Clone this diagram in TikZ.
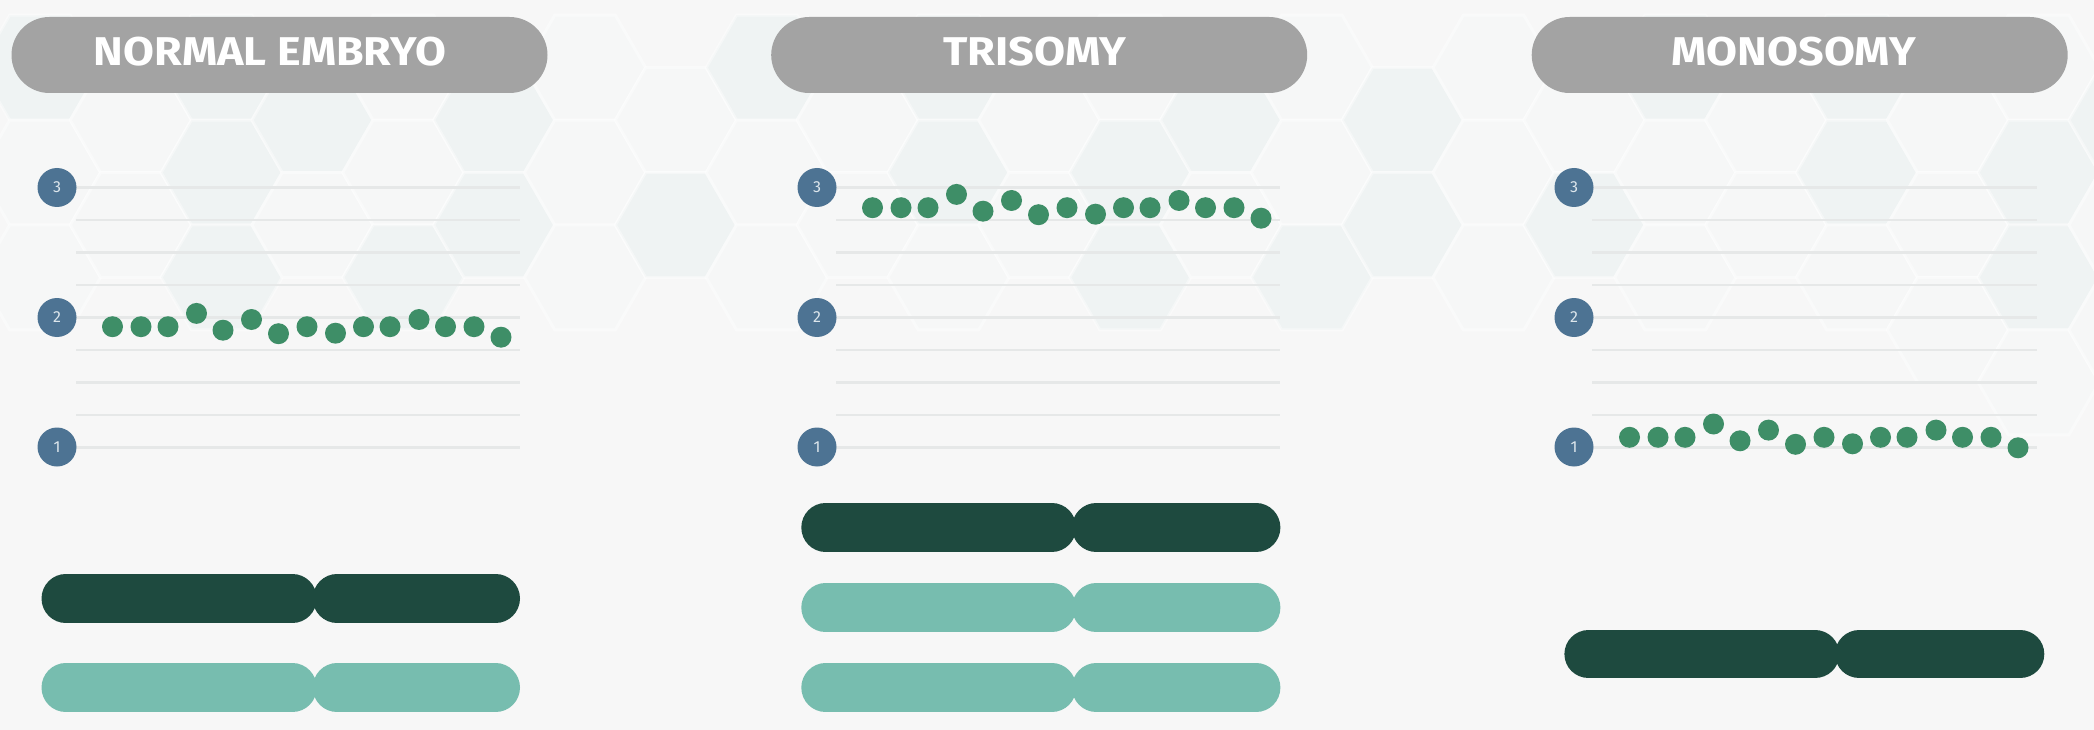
\documentclass[tikz,border=0pt]{standalone}
\usepackage{fontspec}
\usepackage{graphicx}
\setmainfont{Fira Sans}
\usetikzlibrary{shapes.misc}
\definecolor{bg}{HTML}{F7F7F7}
\definecolor{hexa}{HTML}{EFF3F3}
\definecolor{hexb}{HTML}{F6F7F7}
\definecolor{pillc}{HTML}{A3A3A3}
\definecolor{numblue}{HTML}{4D7393}
\definecolor{numtext}{HTML}{DDE6EC}
\definecolor{dotgreen}{HTML}{3E8E67}
\definecolor{chrdark}{HTML}{1E4A3F}
\definecolor{chrlight}{HTML}{77BDAF}
\definecolor{gridc}{HTML}{E6E8E8}
\begin{document}
\begin{tikzpicture}[x=1pt,y=-1pt,
  pillbox/.style={fill=pillc, rounded rectangle, rounded rectangle arc length=180, minimum width=536pt, minimum height=76pt, inner sep=0pt},
  hdrtext/.style={text=white, inner sep=0pt, anchor=base},
  numc/.style={circle, fill=numblue, minimum size=39pt, inner sep=0pt, text=numtext, font=\fontsize{16}{16}\selectfont},
  dot/.style={circle, fill=dotgreen, minimum size=21pt, inner sep=0pt},
  gridline/.style={draw=gridc, line width=2.5pt},
  armdark/.style={draw=chrdark, line width=48.5pt, line cap=round},
  armlight/.style={draw=chrlight, line width=48.5pt, line cap=round},
  hexcell/.style={draw=white, draw opacity=0.4, line width=3pt}
]
\useasboundingbox (0,0) rectangle (2094,730);
\clip (0,0) rectangle (2094,730);
\fill[bg] (0,0) rectangle (2094,730);

% honeycomb background
\foreach \i in {-1,...,22} {
  \foreach \m in {-1,...,3} {
    \pgfmathsetmacro\cx{130.8+90.85*\i}
    \pgfmathsetmacro\cy{225+104.9*\m-52.45*mod(abs(\i),2)}
    \pgfmathtruncatemacro\tt{mod(abs(\i*7+\m*11+3),5)}
    \pgfmathtruncatemacro\keep{(\cy<300)||(\cx>1880 && \cy<420)}
    \ifnum\keep=1
      \ifnum\tt<2
        \path[hexcell, fill=hexa] (\cx,\cy) +(0:60.57) -- +(60:60.57) -- +(120:60.57) -- +(180:60.57) -- +(240:60.57) -- +(300:60.57) -- cycle;
      \else
        \path[hexcell, fill=hexb] (\cx,\cy) +(0:60.57) -- +(60:60.57) -- +(120:60.57) -- +(180:60.57) -- +(240:60.57) -- +(300:60.57) -- cycle;
      \fi
    \fi
  }
}

% headers
\node[pillbox] (h1) at (279.5,55) {};
\node[hdrtext] (h1t) at (270,66) {\resizebox{352pt}{28.5pt}{\bfseries NORMAL EMBRYO}};
\node[pillbox] (h2) at (1039.2,55) {};
\node[hdrtext] (h2t) at (1034.8,66) {\resizebox{183pt}{28.5pt}{\bfseries TRISOMY}};
\node[pillbox] (h3) at (1799.7,55) {};
\node[hdrtext] (h3t) at (1793.8,66) {\resizebox{244pt}{28.5pt}{\bfseries MONOSOMY}};

% grid lines
\foreach \k in {0,...,8} {
  \draw[gridline] (76,187.5+32.5*\k) -- (520,187.5+32.5*\k);
  \draw[gridline] (836,187.5+32.5*\k) -- (1280,187.5+32.5*\k);
  \draw[gridline] (1592,187.5+32.5*\k) -- (2037,187.5+32.5*\k);
}

% number markers
\foreach \p/\ox in {1/57, 2/817, 3/1574} {
  \node[numc] (p\p n3) at (\ox,187.5) {3};
  \node[numc] (p\p n2) at (\ox,317.5) {2};
  \node[numc] (p\p n1) at (\ox,447) {1};
}

% dots
\foreach \p/\ox/\base in {1/57/326.7, 2/817/207.7, 3/1574/437.3} {
  \foreach \dx/\dy [count=\k] in {55.5/0, 84/0, 111/0, 139.5/-13.3, 166/3.5, 194.5/-7.2, 221.5/7, 250/0, 278.5/6.5, 306.5/0, 333/0, 362/-7.2, 388.5/0, 417/0, 444/10.5} {
    \node[dot] (p\p d\k) at (\ox+\dx,\base+\dy) {};
  }
}

% chromosomes: arms drawn as round-capped bars (cap radius 24.25)
% normal
\draw[armdark] (65.75,598.5) -- (292.5,598.5);
\draw[armdark] (337,598.5) -- (495.75,598.5);
\draw[armlight] (65.75,687.7) -- (292.5,687.7);
\draw[armlight] (337,687.7) -- (495.75,687.7);
% trisomy
\draw[armdark] (825.55,527.5) -- (1051.9,527.5);
\draw[armdark] (1096.2,527.5) -- (1256.15,527.5);
\draw[armlight] (825.55,607.7) -- (1051.9,607.7);
\draw[armlight] (1096.2,607.7) -- (1256.15,607.7);
\draw[armlight] (825.55,687.7) -- (1051.9,687.7);
\draw[armlight] (1096.2,687.7) -- (1256.15,687.7);
% monosomy
\draw[armdark] (1588.65,654.2) -- (1815,654.2);
\draw[armdark] (1859.3,654.2) -- (2020.05,654.2);
\end{tikzpicture}
\end{document}
